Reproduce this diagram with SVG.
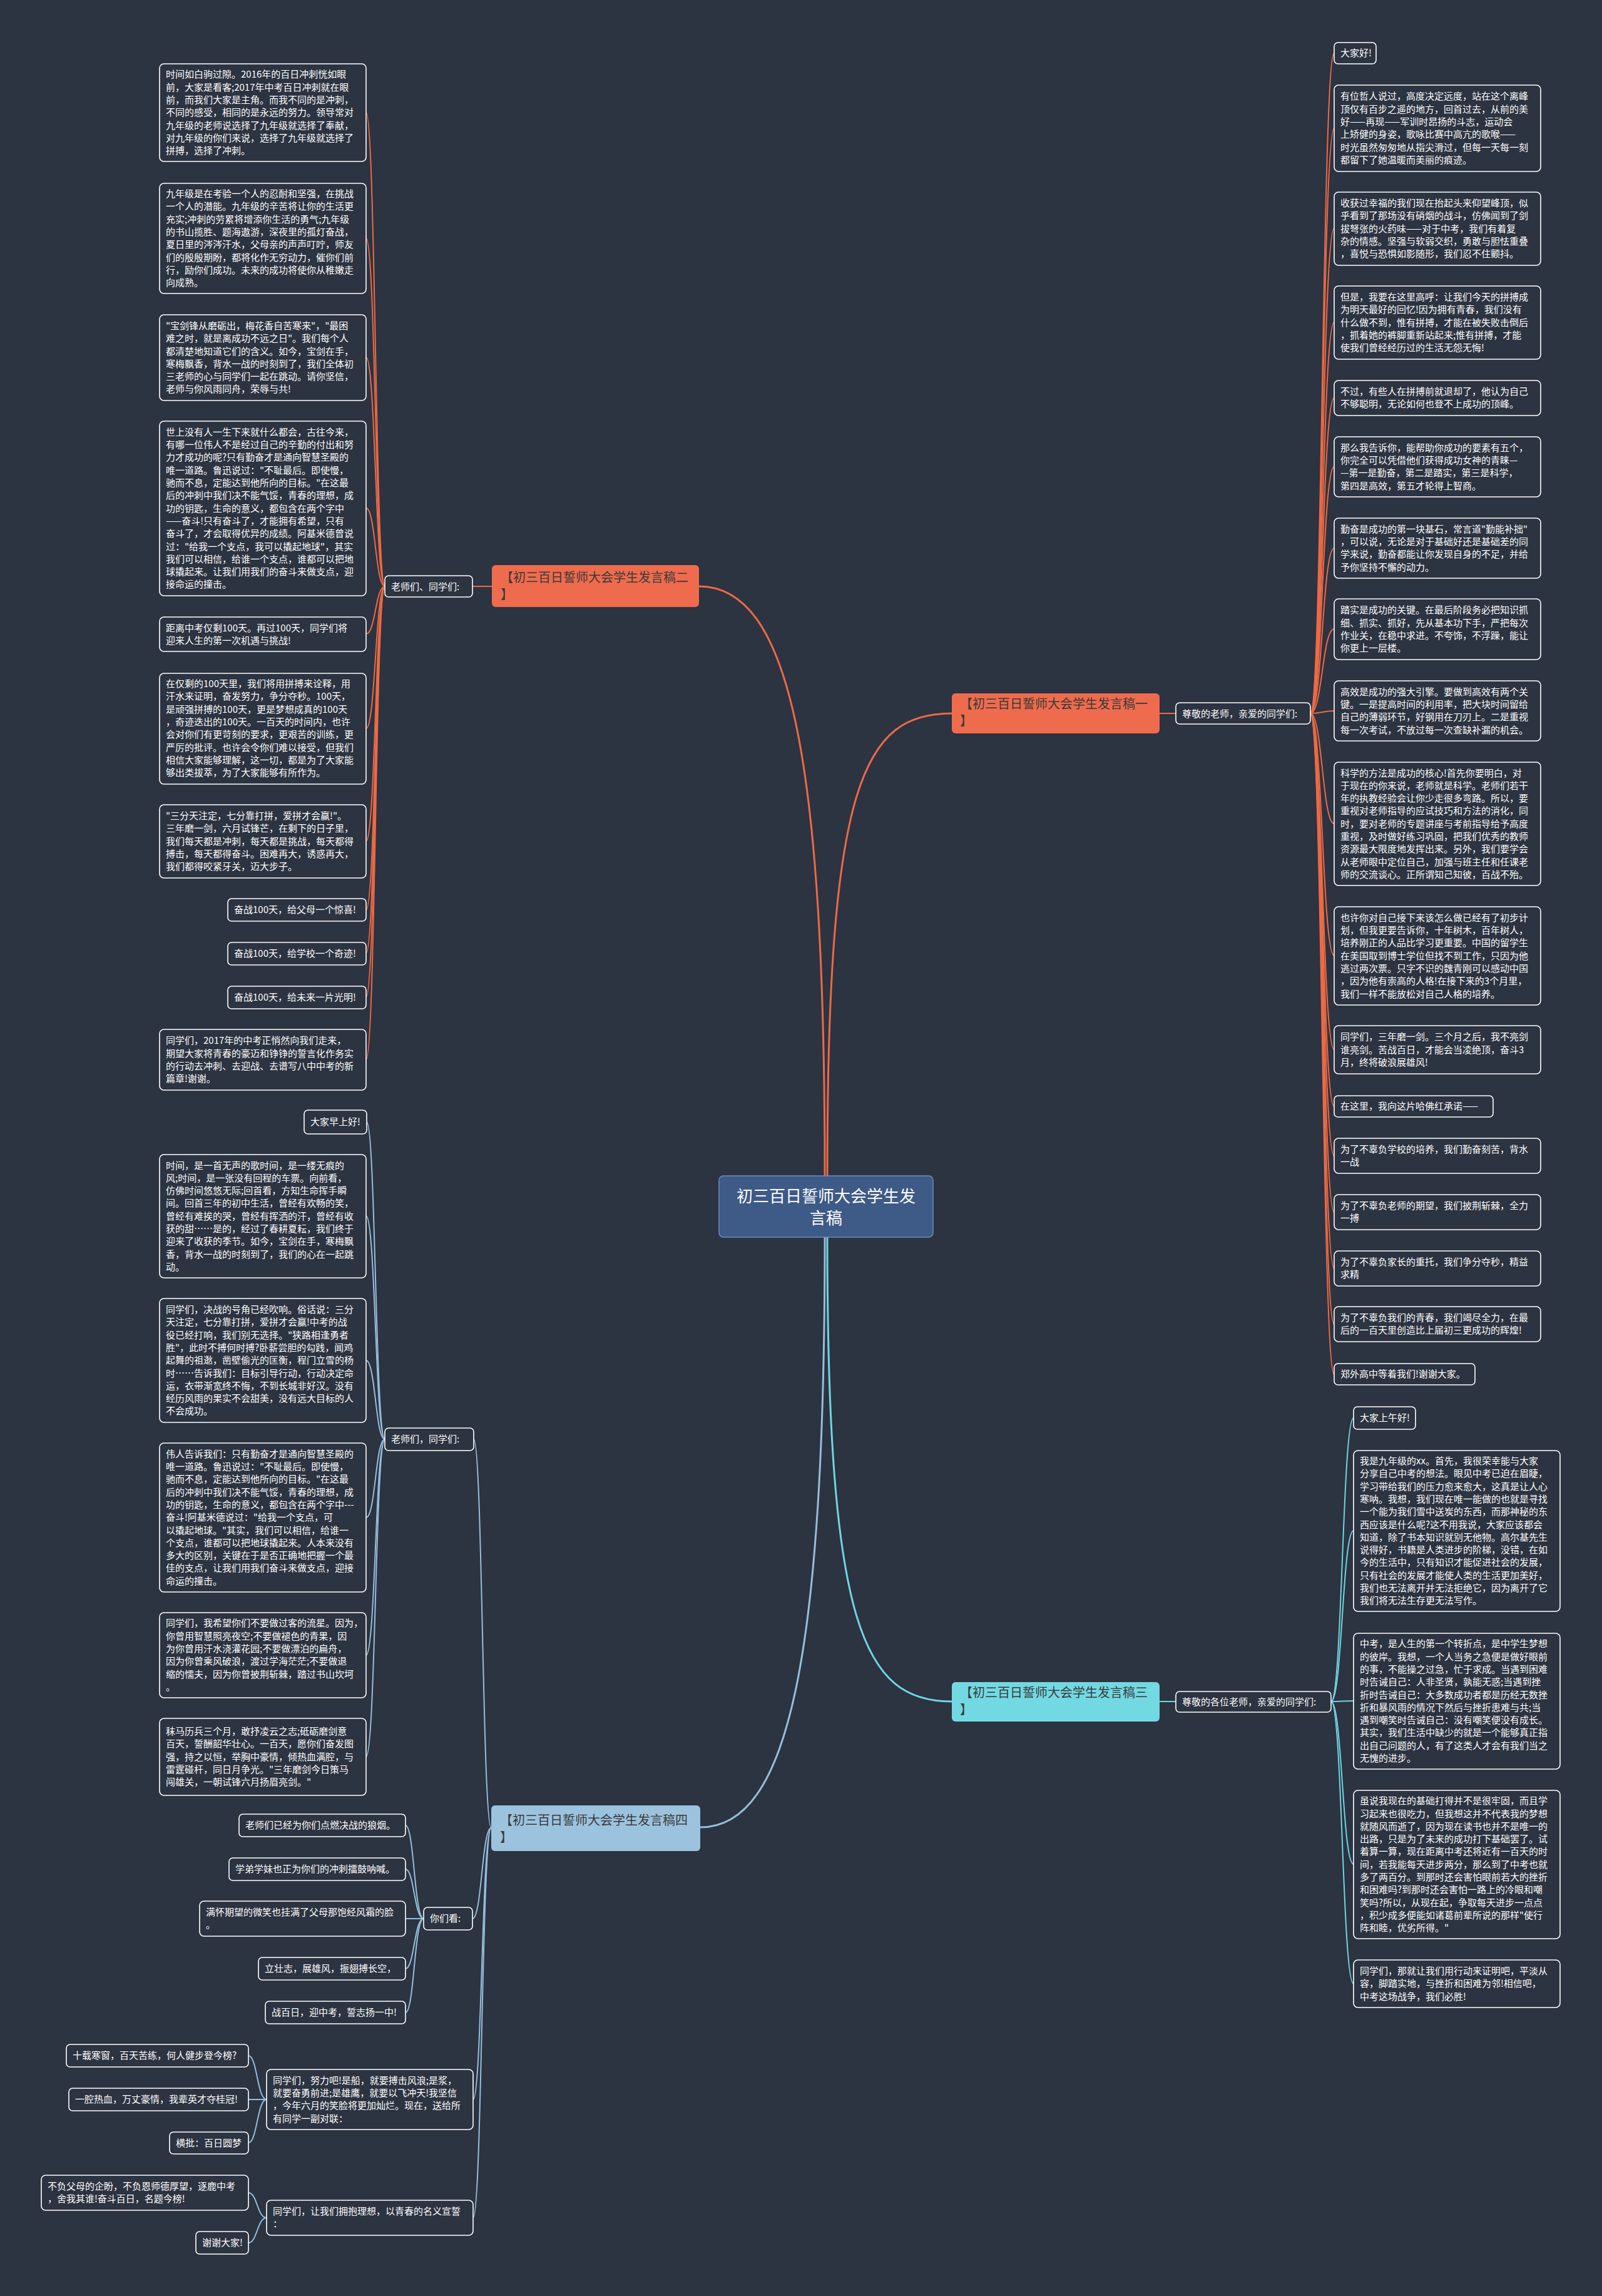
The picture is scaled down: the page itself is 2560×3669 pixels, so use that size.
<svg xmlns="http://www.w3.org/2000/svg" width="2560" height="3669" viewBox="0 0 2560 3669">
<style>
.t{font-family:"Noto Sans CJK SC","Noto Sans",sans-serif;font-size:15px;fill:#ffffff}
.leaf{fill:#2c3341;stroke:#ffffff;stroke-width:1.6}
.bt{font-family:"Noto Sans CJK SC","Noto Sans",sans-serif;font-size:20px;fill:#3a3a3a}
.ct{font-family:"Noto Sans CJK SC","Noto Sans",sans-serif;font-size:26px;fill:#ffffff}
.or{fill:none;stroke:#ec6a45;stroke-width:2}
.cy{fill:none;stroke:#6fd6e2;stroke-width:2}
.lb{fill:none;stroke:#95bfdc;stroke-width:2}
.main{stroke-width:3}
</style>
<rect x="0" y="0" width="2560" height="3669" fill="#2c3341"/>

<g id="connectors">
<path class="or main" d="M1322,1879 C1322,1250 1380,1140 1521,1140"/>
<path class="or main" d="M1318,1879 C1318,1200 1260,937 1117,937"/>
<path class="cy main" d="M1322,1977 C1322,2600 1380,2719 1521,2719"/>
<path class="lb main" d="M1318,1977 C1318,2650 1260,2920 1119,2920"/>
<path class="or" d="M1853,1140 L1879,1140"/>
<path class="or" d="M786,937 L755,937"/>
<path class="cy" d="M1853,2719 L1879,2719"/>
<path class="lb" d="M785,2921 C771,2921 771,2300 757,2300"/>
<path class="lb" d="M785,2921 C770,2921 770,3066 755,3066"/>
<path class="lb" d="M785,2921 C770,2921 770,3355 756,3355"/>
<path class="lb" d="M785,2921 C770,2921 770,3544 756,3544"/>
<!-- branch 1 leaves -->
<path class="or" d="M2094,1140 C2113,1140 2113,85 2132,85"/>
<path class="or" d="M2094,1140 C2113,1140 2113,205 2132,205"/>
<path class="or" d="M2094,1140 C2113,1140 2113,365 2132,365"/>
<path class="or" d="M2094,1140 C2113,1140 2113,515 2132,515"/>
<path class="or" d="M2094,1140 C2113,1140 2113,636 2132,636"/>
<path class="or" d="M2094,1140 C2113,1140 2113,746 2132,746"/>
<path class="or" d="M2094,1140 C2113,1140 2113,876 2132,876"/>
<path class="or" d="M2094,1140 C2113,1140 2113,1005 2132,1005"/>
<path class="or" d="M2094,1140 C2113,1140 2113,1136 2132,1136"/>
<path class="or" d="M2094,1140 C2113,1140 2113,1316 2132,1316"/>
<path class="or" d="M2094,1140 C2113,1140 2113,1527 2132,1527"/>
<path class="or" d="M2094,1140 C2113,1140 2113,1677 2132,1677"/>
<path class="or" d="M2094,1140 C2113,1140 2113,1768 2132,1768"/>
<path class="or" d="M2094,1140 C2113,1140 2113,1847 2132,1847"/>
<path class="or" d="M2094,1140 C2113,1140 2113,1937 2132,1937"/>
<path class="or" d="M2094,1140 C2113,1140 2113,2027 2132,2027"/>
<path class="or" d="M2094,1140 C2113,1140 2113,2116 2132,2116"/>
<path class="or" d="M2094,1140 C2113,1140 2113,2196 2132,2196"/>
<!-- branch 2 leaves -->
<path class="or" d="M615,937 C600,937 600,180 585,180"/>
<path class="or" d="M615,937 C600,937 600,381 585,381"/>
<path class="or" d="M615,937 C600,937 600,571 585,571"/>
<path class="or" d="M615,937 C600,937 600,812 585,812"/>
<path class="or" d="M615,937 C600,937 600,1013 585,1013"/>
<path class="or" d="M615,937 C600,937 600,1164 585,1164"/>
<path class="or" d="M615,937 C600,937 600,1344 585,1344"/>
<path class="or" d="M615,937 C600,937 600,1454 585,1454"/>
<path class="or" d="M615,937 C600,937 600,1523 585,1523"/>
<path class="or" d="M615,937 C600,937 600,1593 585,1593"/>
<path class="or" d="M615,937 C600,937 600,1693 585,1693"/>
<!-- branch 3 leaves -->
<path class="cy" d="M2127,2719 C2145,2719 2145,2266 2163,2266"/>
<path class="cy" d="M2127,2719 C2145,2719 2145,2446 2163,2446"/>
<path class="cy" d="M2127,2719 C2145,2719 2145,2718 2163,2718"/>
<path class="cy" d="M2127,2719 C2145,2719 2145,2979 2163,2979"/>
<path class="cy" d="M2127,2719 C2145,2719 2145,3170 2163,3170"/>
<!-- branch 4 leaves -->
<path class="lb" d="M615,2300 C600,2300 600,1793 586,1793"/>
<path class="lb" d="M615,2300 C600,2300 600,1943 585,1943"/>
<path class="lb" d="M615,2300 C600,2300 600,2174 585,2174"/>
<path class="lb" d="M615,2300 C600,2300 600,2425 585,2425"/>
<path class="lb" d="M615,2300 C600,2300 600,2645 585,2645"/>
<path class="lb" d="M615,2300 C600,2300 600,2807 585,2807"/>
<path class="lb" d="M677,3066 C662,3066 662,2917 648,2917"/>
<path class="lb" d="M677,3066 C662,3066 662,2987 648,2987"/>
<path class="lb" d="M677,3066 C662,3066 662,3066 648,3066"/>
<path class="lb" d="M677,3066 C662,3066 662,3146 648,3146"/>
<path class="lb" d="M677,3066 C662,3066 662,3216 648,3216"/>
<path class="lb" d="M426,3355 C411,3355 411,3285 397,3285"/>
<path class="lb" d="M426,3355 C411,3355 411,3355 397,3355"/>
<path class="lb" d="M426,3355 C411,3355 411,3424 397,3424"/>
<path class="lb" d="M426,3544 C411,3544 411,3504 397,3504"/>
<path class="lb" d="M426,3544 C411,3544 411,3584 397,3584"/>
</g>

<g id="central">
<rect x="1149" y="1879" width="342" height="98" rx="7" fill="#3e5a86" stroke="#6d8dbf" stroke-width="1.5"/>
<text class="ct" x="1320" y="1921" text-anchor="middle"><tspan x="1320">初三百日誓师大会学生发</tspan><tspan x="1320" dy="35">言稿</tspan></text>
</g>

<g id="branch1">
<rect x="1521" y="1108" width="332" height="64" rx="6" fill="#ef6b4d"/>
<text class="bt" x="1534" y="1132"><tspan x="1534">【初三百日誓师大会学生发言稿一</tspan><tspan x="1534" dy="26.5">】</tspan></text>
</g>
<g id="branch1-sub">
<rect class="leaf" x="1879" y="1123" width="215" height="34" rx="6"/>
<text class="t" x="1889" y="1145.5">尊敬的老师，亲爱的同学们:</text>
</g>

<g id="b1-a"><rect class="leaf" x="2132" y="68" width="67" height="34" rx="6"/><text class="t" x="2142" y="90.2">大家好!</text></g>
<g id="b1-b"><rect class="leaf" x="2132" y="136" width="330" height="138" rx="7"/><text class="t" x="2142" y="159.4"><tspan x="2142">有位哲人说过，高度决定远度，站在这个离峰</tspan><tspan x="2142" dy="20.3">顶仅有百步之遥的地方，回首过去，从前的美</tspan><tspan x="2142" dy="20.3">好——再现——军训时昂扬的斗志，运动会</tspan><tspan x="2142" dy="20.3">上矫健的身姿，歌咏比赛中高亢的歌喉——</tspan><tspan x="2142" dy="20.3">时光虽然匆匆地从指尖滑过，但每一天每一刻</tspan><tspan x="2142" dy="20.3">都留下了她温暖而美丽的痕迹。</tspan></text></g>
<g id="b1-c"><rect class="leaf" x="2132" y="307" width="330" height="117" rx="7"/><text class="t" x="2142" y="330"><tspan x="2142">收获过幸福的我们现在抬起头来仰望峰顶，似</tspan><tspan x="2142" dy="20.3">乎看到了那场没有硝烟的战斗，仿佛闻到了剑</tspan><tspan x="2142" dy="20.3">拔弩张的火药味——对于中考，我们有着复</tspan><tspan x="2142" dy="20.3">杂的情感。坚强与软弱交织，勇敢与胆怯重叠</tspan><tspan x="2142" dy="20.3">，喜悦与恐惧如影随形，我们忍不住颤抖。</tspan></text></g>
<g id="b1-d"><rect class="leaf" x="2132" y="457" width="330" height="117" rx="7"/><text class="t" x="2142" y="480"><tspan x="2142">但是，我要在这里高呼：让我们今天的拼搏成</tspan><tspan x="2142" dy="20.3">为明天最好的回忆!因为拥有青春，我们没有</tspan><tspan x="2142" dy="20.3">什么做不到，惟有拼搏，才能在被失败击倒后</tspan><tspan x="2142" dy="20.3">，抓着她的裤脚重新站起来;惟有拼搏，才能</tspan><tspan x="2142" dy="20.3">使我们曾经经历过的生活无怨无悔!</tspan></text></g>
<g id="b1-e"><rect class="leaf" x="2132" y="608" width="330" height="56" rx="7"/><text class="t" x="2142" y="631"><tspan x="2142">不过，有些人在拼搏前就退却了，他认为自己</tspan><tspan x="2142" dy="20.3">不够聪明，无论如何也登不上成功的顶峰。</tspan></text></g>
<g id="b1-f"><rect class="leaf" x="2132" y="698" width="330" height="96" rx="7"/><text class="t" x="2142" y="720.7"><tspan x="2142">那么我告诉你，能帮助你成功的要素有五个，</tspan><tspan x="2142" dy="20.3">你完全可以凭借他们获得成功女神的青睐—</tspan><tspan x="2142" dy="20.3">—第一是勤奋，第二是踏实，第三是科学，</tspan><tspan x="2142" dy="20.3">第四是高效，第五才轮得上智商。</tspan></text></g>
<g id="b1-g"><rect class="leaf" x="2132" y="828" width="330" height="96" rx="7"/><text class="t" x="2142" y="850.7"><tspan x="2142">勤奋是成功的第一块基石，常言道"勤能补拙"</tspan><tspan x="2142" dy="20.3">，可以说，无论是对于基础好还是基础差的同</tspan><tspan x="2142" dy="20.3">学来说，勤奋都能让你发现自身的不足，并给</tspan><tspan x="2142" dy="20.3">予你坚持不懈的动力。</tspan></text></g>
<g id="b1-h"><rect class="leaf" x="2132" y="957" width="330" height="97" rx="7"/><text class="t" x="2142" y="980.2"><tspan x="2142">踏实是成功的关键。在最后阶段务必把知识抓</tspan><tspan x="2142" dy="20.3">细、抓实、抓好，先从基本功下手，严把每次</tspan><tspan x="2142" dy="20.3">作业关，在稳中求进。不夸饰，不浮躁，能让</tspan><tspan x="2142" dy="20.3">你更上一层楼。</tspan></text></g>
<g id="b1-i"><rect class="leaf" x="2132" y="1088" width="330" height="96" rx="7"/><text class="t" x="2142" y="1110.7"><tspan x="2142">高效是成功的强大引擎。要做到高效有两个关</tspan><tspan x="2142" dy="20.3">键。一是提高时间的利用率，把大块时间留给</tspan><tspan x="2142" dy="20.3">自己的薄弱环节，好钢用在刀刃上。二是重视</tspan><tspan x="2142" dy="20.3">每一次考试，不放过每一次查缺补漏的机会。</tspan></text></g>
<g id="b1-j"><rect class="leaf" x="2132" y="1218" width="330" height="197" rx="7"/><text class="t" x="2142" y="1240.5"><tspan x="2142">科学的方法是成功的核心!首先你要明白，对</tspan><tspan x="2142" dy="20.3">于现在的你来说，老师就是科学。老师们若干</tspan><tspan x="2142" dy="20.3">年的执教经验会让你少走很多弯路。所以，要</tspan><tspan x="2142" dy="20.3">重视对老师指导的应试技巧和方法的消化，同</tspan><tspan x="2142" dy="20.3">时，要对老师的专题讲座与考前指导给予高度</tspan><tspan x="2142" dy="20.3">重视，及时做好练习巩固，把我们优秀的教师</tspan><tspan x="2142" dy="20.3">资源最大限度地发挥出来。另外，我们要学会</tspan><tspan x="2142" dy="20.3">从老师眼中定位自己，加强与班主任和任课老</tspan><tspan x="2142" dy="20.3">师的交流谈心。正所谓知己知彼，百战不殆。</tspan></text></g>
<g id="b1-k"><rect class="leaf" x="2132" y="1449" width="330" height="157" rx="7"/><text class="t" x="2142" y="1471.8"><tspan x="2142">也许你对自己接下来该怎么做已经有了初步计</tspan><tspan x="2142" dy="20.3">划，但我更要告诉你，十年树木，百年树人，</tspan><tspan x="2142" dy="20.3">培养刚正的人品比学习更重要。中国的留学生</tspan><tspan x="2142" dy="20.3">在美国取到博士学位但找不到工作，只因为他</tspan><tspan x="2142" dy="20.3">逃过两次票。只字不识的魏青刚可以感动中国</tspan><tspan x="2142" dy="20.3">，因为他有崇高的人格!在接下来的3个月里，</tspan><tspan x="2142" dy="20.3">我们一样不能放松对自己人格的培养。</tspan></text></g>
<g id="b1-l"><rect class="leaf" x="2132" y="1639" width="330" height="77" rx="7"/><text class="t" x="2142" y="1662.3"><tspan x="2142">同学们，三年磨一剑。三个月之后，我不亮剑</tspan><tspan x="2142" dy="20.3">谁亮剑。苦战百日，才能会当凌绝顶，奋斗3</tspan><tspan x="2142" dy="20.3">月，终将破浪展雄风!</tspan></text></g>
<g id="b1-m"><rect class="leaf" x="2132" y="1751" width="254" height="34" rx="6"/><text class="t" x="2142" y="1773.2">在这里，我向这片哈佛红承诺——</text></g>
<g id="b1-n"><rect class="leaf" x="2132" y="1819" width="330" height="56" rx="7"/><text class="t" x="2142" y="1842"><tspan x="2142">为了不辜负学校的培养，我们勤奋刻苦，背水</tspan><tspan x="2142" dy="20.3">一战</tspan></text></g>
<g id="b1-o"><rect class="leaf" x="2132" y="1909" width="330" height="56" rx="7"/><text class="t" x="2142" y="1932"><tspan x="2142">为了不辜负老师的期望，我们披荆斩棘，全力</tspan><tspan x="2142" dy="20.3">一搏</tspan></text></g>
<g id="b1-p"><rect class="leaf" x="2132" y="1999" width="330" height="56" rx="7"/><text class="t" x="2142" y="2022"><tspan x="2142">为了不辜负家长的重托，我们争分夺秒，精益</tspan><tspan x="2142" dy="20.3">求精</tspan></text></g>
<g id="b1-q"><rect class="leaf" x="2132" y="2088" width="330" height="56" rx="7"/><text class="t" x="2142" y="2111"><tspan x="2142">为了不辜负我们的青春，我们竭尽全力，在最</tspan><tspan x="2142" dy="20.3">后的一百天里创造比上届初三更成功的辉煌!</tspan></text></g>
<g id="b1-r"><rect class="leaf" x="2132" y="2179" width="225" height="34" rx="6"/><text class="t" x="2142" y="2201.2">郑外高中等着我们!谢谢大家。</text></g>

<g id="branch2">
<rect x="786" y="903" width="331" height="67" rx="6" fill="#ef6b4d"/>
<text class="bt" x="800" y="930"><tspan x="800">【初三百日誓师大会学生发言稿二</tspan><tspan x="800" dy="26.5">】</tspan></text>
</g>
<g id="branch2-sub">
<rect class="leaf" x="615" y="920" width="140" height="34" rx="6"/>
<text class="t" x="625" y="942.5">老师们、同学们:</text>
</g>

<g id="b2-1"><rect class="leaf" x="255" y="102" width="330" height="156" rx="7"/><text class="t" x="265" y="124.3"><tspan x="265">时间如白驹过隙。2016年的百日冲刺恍如眼</tspan><tspan x="265" dy="20.3">前，大家是看客;2017年中考百日冲刺就在眼</tspan><tspan x="265" dy="20.3">前，而我们大家是主角。而我不同的是冲刺，</tspan><tspan x="265" dy="20.3">不同的感受，相同的是永远的努力。领导常对</tspan><tspan x="265" dy="20.3">九年级的老师说选择了九年级就选择了奉献，</tspan><tspan x="265" dy="20.3">对九年级的你们来说，选择了九年级就选择了</tspan><tspan x="265" dy="20.3">拼搏，选择了冲刺。</tspan></text></g>
<g id="b2-2"><rect class="leaf" x="255" y="293" width="330" height="176" rx="7"/><text class="t" x="265" y="315.1"><tspan x="265">九年级是在考验一个人的忍耐和坚强，在挑战</tspan><tspan x="265" dy="20.3">一个人的潜能。九年级的辛苦将让你的生活更</tspan><tspan x="265" dy="20.3">充实;冲刺的劳累将增添你生活的勇气;九年级</tspan><tspan x="265" dy="20.3">的书山揽胜、题海遨游，深夜里的孤灯奋战，</tspan><tspan x="265" dy="20.3">夏日里的涔涔汗水，父母亲的声声叮咛，师友</tspan><tspan x="265" dy="20.3">们的殷殷期盼，都将化作无穷动力，催你们前</tspan><tspan x="265" dy="20.3">行，励你们成功。未来的成功将使你从稚嫩走</tspan><tspan x="265" dy="20.3">向成熟。</tspan></text></g>
<g id="b2-3"><rect class="leaf" x="255" y="503" width="330" height="137" rx="7"/><text class="t" x="265" y="525.9"><tspan x="265">"宝剑锋从磨砺出，梅花香自苦寒来"，"最困</tspan><tspan x="265" dy="20.3">难之时，就是离成功不远之日"。我们每个人</tspan><tspan x="265" dy="20.3">都清楚地知道它们的含义。如今，宝剑在手，</tspan><tspan x="265" dy="20.3">寒梅飘香，背水一战的时刻到了，我们全体初</tspan><tspan x="265" dy="20.3">三老师的心与同学们一起在跳动。请你坚信，</tspan><tspan x="265" dy="20.3">老师与你风雨同舟，荣辱与共!</tspan></text></g>
<g id="b2-4"><rect class="leaf" x="255" y="673" width="330" height="279" rx="7"/><text class="t" x="265" y="695.8"><tspan x="265">世上没有人一生下来就什么都会，古往今来，</tspan><tspan x="265" dy="20.3">有哪一位伟人不是经过自己的辛勤的付出和努</tspan><tspan x="265" dy="20.3">力才成功的呢?只有勤奋才是通向智慧圣殿的</tspan><tspan x="265" dy="20.3">唯一道路。鲁迅说过："不耻最后。即使慢，</tspan><tspan x="265" dy="20.3">驰而不息，定能达到他所向的目标。"在这最</tspan><tspan x="265" dy="20.3">后的冲刺中我们决不能气馁，青春的理想，成</tspan><tspan x="265" dy="20.3">功的钥匙，生命的意义，都包含在两个字中</tspan><tspan x="265" dy="20.3">——奋斗!只有奋斗了，才能拥有希望，只有</tspan><tspan x="265" dy="20.3">奋斗了，才会取得优异的成绩。阿基米德曾说</tspan><tspan x="265" dy="20.3">过："给我一个支点，我可以撬起地球"，其实</tspan><tspan x="265" dy="20.3">我们可以相信，给谁一个支点，谁都可以把地</tspan><tspan x="265" dy="20.3">球撬起来。让我们用我们的奋斗来做支点，迎</tspan><tspan x="265" dy="20.3">接命运的撞击。</tspan></text></g>
<g id="b2-5"><rect class="leaf" x="255" y="986" width="330" height="55" rx="7"/><text class="t" x="265" y="1008.5"><tspan x="265">距离中考仅剩100天。再过100天，同学们将</tspan><tspan x="265" dy="20.3">迎来人生的第一次机遇与挑战!</tspan></text></g>
<g id="b2-6"><rect class="leaf" x="255" y="1076" width="330" height="177" rx="7"/><text class="t" x="265" y="1098.1"><tspan x="265">在仅剩的100天里，我们将用拼搏来诠释，用</tspan><tspan x="265" dy="20.3">汗水来证明，奋发努力，争分夺秒。100天，</tspan><tspan x="265" dy="20.3">是顽强拼搏的100天，更是梦想成真的100天</tspan><tspan x="265" dy="20.3">，奇迹迭出的100天。一百天的时间内，也许</tspan><tspan x="265" dy="20.3">会对你们有更苛刻的要求，更艰苦的训练，更</tspan><tspan x="265" dy="20.3">严厉的批评。也许会令你们难以接受，但我们</tspan><tspan x="265" dy="20.3">相信大家能够理解，这一切，都是为了大家能</tspan><tspan x="265" dy="20.3">够出类拔萃，为了大家能够有所作为。</tspan></text></g>
<g id="b2-7"><rect class="leaf" x="255" y="1286" width="330" height="117" rx="7"/><text class="t" x="265" y="1309"><tspan x="265">"三分天注定，七分靠打拼，爱拼才会赢!"。</tspan><tspan x="265" dy="20.3">三年磨一剑，六月试锋芒，在剩下的日子里，</tspan><tspan x="265" dy="20.3">我们每天都是冲刺，每天都是挑战，每天都得</tspan><tspan x="265" dy="20.3">搏击，每天都得奋斗。困难再大，诱惑再大，</tspan><tspan x="265" dy="20.3">我们都得咬紧牙关，迈大步子。</tspan></text></g>
<g id="b2-8"><rect class="leaf" x="364" y="1436" width="221" height="36" rx="6"/><text class="t" x="374" y="1459.2">奋战100天，给父母一个惊喜!</text></g>
<g id="b2-9"><rect class="leaf" x="364" y="1506" width="221" height="36" rx="6"/><text class="t" x="374" y="1529.2">奋战100天，给学校一个奇迹!</text></g>
<g id="b2-10"><rect class="leaf" x="364" y="1576" width="221" height="36" rx="6"/><text class="t" x="374" y="1599.2">奋战100天，给未来一片光明!</text></g>
<g id="b2-11"><rect class="leaf" x="255" y="1645" width="330" height="97" rx="7"/><text class="t" x="265" y="1668.2"><tspan x="265">同学们，2017年的中考正悄然向我们走来，</tspan><tspan x="265" dy="20.3">期望大家将青春的豪迈和铮铮的誓言化作务实</tspan><tspan x="265" dy="20.3">的行动去冲刺、去迎战、去谱写八中中考的新</tspan><tspan x="265" dy="20.3">篇章!谢谢。</tspan></text></g>

<g id="branch3">
<rect x="1521" y="2688" width="332" height="63" rx="6" fill="#72d9e3"/>
<text class="bt" x="1534" y="2712"><tspan x="1534">【初三百日誓师大会学生发言稿三</tspan><tspan x="1534" dy="26.5">】</tspan></text>
</g>
<g id="branch3-sub">
<rect class="leaf" x="1879" y="2703" width="248" height="33" rx="6"/>
<text class="t" x="1889" y="2725">尊敬的各位老师，亲爱的同学们:</text>
</g>
<g id="b3-1"><rect class="leaf" x="2163" y="2248" width="99" height="36" rx="6"/><text class="t" x="2173" y="2271.2">大家上午好!</text></g>
<g id="b3-2"><rect class="leaf" x="2163" y="2318" width="330" height="257" rx="7"/><text class="t" x="2173" y="2340"><tspan x="2173">我是九年级的xx。首先，我很荣幸能与大家</tspan><tspan x="2173" dy="20.3">分享自己中考的想法。眼见中考已迫在眉睫，</tspan><tspan x="2173" dy="20.3">学习带给我们的压力愈来愈大，这真是让人心</tspan><tspan x="2173" dy="20.3">寒呐。我想，我们现在唯一能做的也就是寻找</tspan><tspan x="2173" dy="20.3">一个能为我们雪中送炭的东西，而那神秘的东</tspan><tspan x="2173" dy="20.3">西应该是什么呢?这不用我说，大家应该都会</tspan><tspan x="2173" dy="20.3">知道，除了书本知识就别无他物。高尔基先生</tspan><tspan x="2173" dy="20.3">说得好，书籍是人类进步的阶梯，没错，在如</tspan><tspan x="2173" dy="20.3">今的生活中，只有知识才能促进社会的发展，</tspan><tspan x="2173" dy="20.3">只有社会的发展才能使人类的生活更加美好，</tspan><tspan x="2173" dy="20.3">我们也无法离开并无法拒绝它，因为离开了它</tspan><tspan x="2173" dy="20.3">我们将无法生存更无法写作。</tspan></text></g>
<g id="b3-3"><rect class="leaf" x="2163" y="2610" width="330" height="217" rx="7"/><text class="t" x="2173" y="2632.3"><tspan x="2173">中考，是人生的第一个转折点，是中学生梦想</tspan><tspan x="2173" dy="20.3">的彼岸。我想，一个人当务之急便是做好眼前</tspan><tspan x="2173" dy="20.3">的事，不能操之过急，忙于求成。当遇到困难</tspan><tspan x="2173" dy="20.3">时告诫自己：人非圣贤，孰能无惑;当遇到挫</tspan><tspan x="2173" dy="20.3">折时告诫自己：大多数成功者都是历经无数挫</tspan><tspan x="2173" dy="20.3">折和暴风雨的情况下然后与挫折患难与共;当</tspan><tspan x="2173" dy="20.3">遇到嘲笑时告诫自己：没有嘲笑便没有成长。</tspan><tspan x="2173" dy="20.3">其实，我们生活中缺少的就是一个能够真正指</tspan><tspan x="2173" dy="20.3">出自己问题的人，有了这类人才会有我们当之</tspan><tspan x="2173" dy="20.3">无愧的进步。</tspan></text></g>
<g id="b3-4"><rect class="leaf" x="2163" y="2861" width="330" height="237" rx="7"/><text class="t" x="2173" y="2883.2"><tspan x="2173">虽说我现在的基础打得并不是很牢固，而且学</tspan><tspan x="2173" dy="20.3">习起来也很吃力，但我想这并不代表我的梦想</tspan><tspan x="2173" dy="20.3">就随风而逝了，因为现在读书也并不是唯一的</tspan><tspan x="2173" dy="20.3">出路，只是为了未来的成功打下基础罢了。试</tspan><tspan x="2173" dy="20.3">着算一算，现在距离中考还将近有一百天的时</tspan><tspan x="2173" dy="20.3">间，若我能每天进步两分，那么到了中考也就</tspan><tspan x="2173" dy="20.3">多了两百分。到那时还会害怕眼前若大的挫折</tspan><tspan x="2173" dy="20.3">和困难吗?到那时还会害怕一路上的冷眼和嘲</tspan><tspan x="2173" dy="20.3">笑吗?所以，从现在起，争取每天进步一点点</tspan><tspan x="2173" dy="20.3">，积少成多便能如诸葛前辈所说的那样"使行</tspan><tspan x="2173" dy="20.3">阵和睦，优劣所得。"</tspan></text></g>
<g id="b3-5"><rect class="leaf" x="2163" y="3132" width="330" height="76" rx="7"/><text class="t" x="2173" y="3154.9"><tspan x="2173">同学们，那就让我们用行动来证明吧，平淡从</tspan><tspan x="2173" dy="20.3">容，脚踏实地，与挫折和困难为邻!相信吧，</tspan><tspan x="2173" dy="20.3">中考这场战争，我们必胜!</tspan></text></g>

<g id="branch4">
<rect x="785" y="2885" width="334" height="73" rx="6" fill="#9cc3de"/>
<text class="bt" x="799" y="2916"><tspan x="799">【初三百日誓师大会学生发言稿四</tspan><tspan x="799" dy="26.5">】</tspan></text>
</g>
<g id="branch4-sub1">
<rect class="leaf" x="615" y="2282" width="142" height="36" rx="6"/>
<text class="t" x="625" y="2305">老师们，同学们:</text>
</g>
<g id="b4-1"><rect class="leaf" x="486" y="1774" width="100" height="38" rx="6"/><text class="t" x="496" y="1798.2">大家早上好!</text></g>
<g id="b4-2"><rect class="leaf" x="255" y="1845" width="330" height="197" rx="7"/><text class="t" x="265" y="1867.5"><tspan x="265">时间，是一首无声的歌时间，是一缕无痕的</tspan><tspan x="265" dy="20.3">风;时间，是一张没有回程的车票。向前看，</tspan><tspan x="265" dy="20.3">仿佛时间悠悠无际;回首看，方知生命挥手瞬</tspan><tspan x="265" dy="20.3">间。回首三年的初中生活，曾经有欢畅的笑，</tspan><tspan x="265" dy="20.3">曾经有难挨的哭，曾经有挥洒的汗，曾经有收</tspan><tspan x="265" dy="20.3">获的甜……是的，经过了春耕夏耘，我们终于</tspan><tspan x="265" dy="20.3">迎来了收获的季节。如今，宝剑在手，寒梅飘</tspan><tspan x="265" dy="20.3">香，背水一战的时刻到了，我们的心在一起跳</tspan><tspan x="265" dy="20.3">动。</tspan></text></g>
<g id="b4-3"><rect class="leaf" x="255" y="2075" width="330" height="198" rx="7"/><text class="t" x="265" y="2098"><tspan x="265">同学们，决战的号角已经吹响。俗话说：三分</tspan><tspan x="265" dy="20.3">天注定，七分靠打拼，爱拼才会赢!中考的战</tspan><tspan x="265" dy="20.3">役已经打响，我们别无选择。"狭路相逢勇者</tspan><tspan x="265" dy="20.3">胜"，此时不搏何时搏?卧薪尝胆的勾践，闻鸡</tspan><tspan x="265" dy="20.3">起舞的祖逖，凿壁偷光的匡衡，程门立雪的杨</tspan><tspan x="265" dy="20.3">时……告诉我们：目标引导行动，行动决定命</tspan><tspan x="265" dy="20.3">运，衣带渐宽终不悔，不到长城非好汉。没有</tspan><tspan x="265" dy="20.3">经历风雨的果实不会甜美，没有远大目标的人</tspan><tspan x="265" dy="20.3">不会成功。</tspan></text></g>
<g id="b4-4"><rect class="leaf" x="255" y="2306" width="330" height="238" rx="7"/><text class="t" x="265" y="2328.7"><tspan x="265">伟人告诉我们：只有勤奋才是通向智慧圣殿的</tspan><tspan x="265" dy="20.3">唯一道路。鲁迅说过："不耻最后。即使慢，</tspan><tspan x="265" dy="20.3">驰而不息，定能达到他所向的目标。"在这最</tspan><tspan x="265" dy="20.3">后的冲刺中我们决不能气馁，青春的理想，成</tspan><tspan x="265" dy="20.3">功的钥匙，生命的意义，都包含在两个字中---</tspan><tspan x="265" dy="20.3">奋斗!阿基米德说过："给我一个支点，可</tspan><tspan x="265" dy="20.3">以撬起地球。"其实，我们可以相信，给谁一</tspan><tspan x="265" dy="20.3">个支点，谁都可以把地球撬起来。人本来没有</tspan><tspan x="265" dy="20.3">多大的区别，关键在于是否正确地把握一个最</tspan><tspan x="265" dy="20.3">佳的支点，让我们用我们奋斗来做支点，迎接</tspan><tspan x="265" dy="20.3">命运的撞击。</tspan></text></g>
<g id="b4-5"><rect class="leaf" x="255" y="2577" width="330" height="136" rx="7"/><text class="t" x="265" y="2599.4"><tspan x="265">同学们，我希望你们不要做过客的流星。因为，</tspan><tspan x="265" dy="20.3">你曾用智慧照亮夜空;不要做褪色的青果，因</tspan><tspan x="265" dy="20.3">为你曾用汗水浇灌花园;不要做漂泊的扁舟，</tspan><tspan x="265" dy="20.3">因为你曾乘风破浪，渡过学海茫茫;不要做退</tspan><tspan x="265" dy="20.3">缩的懦夫，因为你曾披荆斩棘，踏过书山坎坷</tspan><tspan x="265" dy="20.3">。</tspan></text></g>
<g id="b4-6"><rect class="leaf" x="255" y="2746" width="330" height="123" rx="7"/><text class="t" x="265" y="2772"><tspan x="265">秣马历兵三个月，敢抒凌云之志;砥砺磨剑意</tspan><tspan x="265" dy="20.3">百天，誓酬韶华壮心。一百天，愿你们奋发图</tspan><tspan x="265" dy="20.3">强，持之以恒，举胸中豪情，倾热血满腔，与</tspan><tspan x="265" dy="20.3">雷霆碰杆，同日月争光。"三年磨剑今日策马</tspan><tspan x="265" dy="20.3">闯雄关，一朝试锋六月扬眉亮剑。"</tspan></text></g>

<g id="branch4-sub2">
<rect class="leaf" x="677" y="3048" width="78" height="36" rx="6"/>
<text class="t" x="687" y="3071">你们看:</text>
</g>
<g id="b4-7"><rect class="leaf" x="382" y="2899" width="266" height="36" rx="6"/><text class="t" x="392" y="2922.1">老师们已经为你们点燃决战的狼烟。</text></g>
<g id="b4-8"><rect class="leaf" x="366" y="2969" width="282" height="36" rx="6"/><text class="t" x="376" y="2992.1">学弟学妹也正为你们的冲刺擂鼓呐喊。</text></g>
<g id="b4-9"><rect class="leaf" x="319" y="3038" width="329" height="56" rx="7"/><text class="t" x="329" y="3061"><tspan x="329">满怀期望的微笑也挂满了父母那饱经风霜的脸</tspan><tspan x="329" dy="20.3">。</tspan></text></g>
<g id="b4-10"><rect class="leaf" x="413" y="3128" width="235" height="36" rx="6"/><text class="t" x="423" y="3151.1">立壮志，展雄风，振翅搏长空，</text></g>
<g id="b4-11"><rect class="leaf" x="424" y="3198" width="224" height="36" rx="6"/><text class="t" x="434" y="3221.1">战百日，迎中考，誓志扬一中!</text></g>

<g id="branch4-sub3">
<rect class="leaf" x="426" y="3307" width="330" height="96" rx="7"/>
<text class="t" x="436" y="3329.7"><tspan x="436">同学们，努力吧!是船，就要搏击风浪;是浆，</tspan><tspan x="436" dy="20.3">就要奋勇前进;是雄鹰，就要以飞冲天!我坚信</tspan><tspan x="436" dy="20.3">，今年六月的笑脸将更加灿烂。现在，送给所</tspan><tspan x="436" dy="20.3">有同学一副对联：</tspan></text>
</g>
<g id="b4-12"><rect class="leaf" x="106" y="3267" width="291" height="36" rx="6"/><text class="t" x="116" y="3290.1">十载寒窗，百天苦练，何人健步登今榜?</text></g>
<g id="b4-13"><rect class="leaf" x="110" y="3337" width="287" height="36" rx="6"/><text class="t" x="120" y="3360.1">一腔热血，万丈豪情，我辈英才夺桂冠!</text></g>
<g id="b4-14"><rect class="leaf" x="271" y="3407" width="126" height="35" rx="6"/><text class="t" x="281" y="3429.6">横批：百日圆梦</text></g>

<g id="branch4-sub4">
<rect class="leaf" x="426" y="3516" width="330" height="56" rx="7"/>
<text class="t" x="436" y="3539"><tspan x="436">同学们，让我们拥抱理想，以青春的名义宣誓</tspan><tspan x="436" dy="20.3">：</tspan></text>
</g>
<g id="b4-15"><rect class="leaf" x="66" y="3476" width="331" height="56" rx="7"/><text class="t" x="76" y="3499"><tspan x="76">不负父母的企盼，不负恩师德厚望，逐鹿中考</tspan><tspan x="76" dy="20.3">，舍我其谁!奋斗百日，名题今榜!</tspan></text></g>
<g id="b4-16"><rect class="leaf" x="313" y="3566" width="84" height="36" rx="6"/><text class="t" x="323" y="3589.1">谢谢大家!</text></g>
</svg>
